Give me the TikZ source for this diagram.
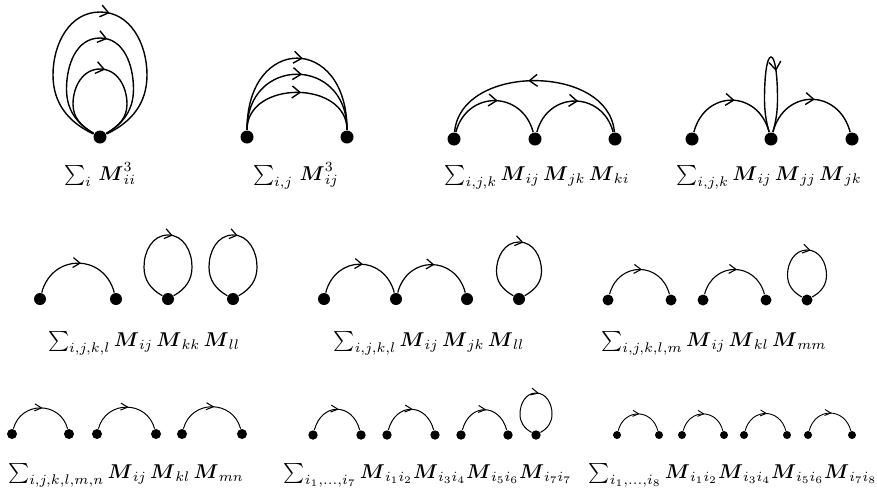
\documentclass[tikz,border=0pt]{standalone}
\usepackage{amsmath}
\usepackage{amssymb}
\usetikzlibrary{arrows.meta,decorations.markings}

\begin{document}
\begin{tikzpicture}[x=0.5pt, y=0.5pt,
    vtx/.style={circle, fill=black, inner sep=0pt, minimum size=#1},
    prop/.style={postaction={decorate}, decoration={markings,
        mark=at position #1 with {\arrow{>}}}},
    prop/.default=0.53,
    lbl/.style={anchor=base, inner sep=0pt}]
  \useasboundingbox (0,0) rectangle (877,-489);

  % ---- first row ----
  \begin{scope}[line width=0.7pt, >={Straight Barb[length=4pt,width=6pt]}]
    % one vertex, three loops
    \node[vtx=6.5pt] (v1) at (100,-137) {};
    \draw[prop] (v1) to[out=155,in=-90] ++(-47,62) to[out=90,in=180] ++(47,63)
      to[out=0,in=90] ++(47,-63) to[out=-90,in=25] (v1);
    \draw[prop] (v1) to[out=150,in=-90] ++(-33.5,48) to[out=90,in=180] ++(33.5,51)
      to[out=0,in=90] ++(33.5,-51) to[out=-90,in=30] (v1);
    \draw[prop] (v1) to[out=150,in=-90] ++(-27,33) to[out=90,in=180] ++(27,35)
      to[out=0,in=90] ++(27,-35) to[out=-90,in=30] (v1);
    \node[lbl] (s1) at (100,-180) {$\sum_{i}\, \boldsymbol{M}_{ii}^{3}$};

    % two vertices, three lines
    \node[vtx=6.5pt] (v2a) at (247,-137) {};
    \node[vtx=6.5pt] (v2b) at (347,-137) {};
    \foreach \l in {2.45,1.9,1.28}
      \draw[prop] (v2a) to[out=90,in=90,looseness=\l] (v2b);
    \node[lbl] (s2) at (296,-180) {$\sum_{i,j}\, \boldsymbol{M}_{ij}^{3}$};

    % triangle
    \node[vtx=6.5pt] (v3a) at (454,-139) {};
    \node[vtx=6.5pt] (v3b) at (535,-139) {};
    \node[vtx=6.5pt] (v3c) at (615,-139) {};
    \draw[prop] (v3a) to[out=75,in=105,looseness=1.44] (v3b);
    \draw[prop] (v3b) to[out=75,in=105,looseness=1.44] (v3c);
    \draw[prop] (v3c) to[out=95,in=85,looseness=1.1] (v3a);
    \node[lbl] (s3) at (537,-180) {$\sum_{i,j,k} \boldsymbol{M}_{ij}\,\boldsymbol{M}_{jk}\,\boldsymbol{M}_{ki}$};

    % chain with a thin loop in the middle
    \node[vtx=6.5pt] (v4a) at (692,-139) {};
    \node[vtx=6.5pt] (v4b) at (771,-139) {};
    \node[vtx=6.5pt] (v4c) at (852,-139) {};
    \draw[prop] (v4a) to[out=75,in=105,looseness=1.5] (v4b);
    \draw[prop] (v4b) to[out=75,in=105,looseness=1.5] (v4c);
    \draw[prop=0.6] (v4b) to[out=105,in=-90,out looseness=0.5,in looseness=1.3] ++(-6.5,40)
      to[out=90,in=180,out looseness=1.4,in looseness=0.25] ++(6.5,42)
      to[out=0,in=90,out looseness=0.25,in looseness=1.4] ++(6.5,-42)
      to[out=-90,in=75,out looseness=1.3,in looseness=0.5] (v4b);
    \node[lbl] (s4) at (769,-180) {$\sum_{i,j,k} \boldsymbol{M}_{ij}\,\boldsymbol{M}_{jj}\,\boldsymbol{M}_{jk}$};
  \end{scope}

  % ---- second row ----
  \begin{scope}[line width=0.6pt, >={Straight Barb[length=3.5pt,width=5pt]}]
    \node[vtx=6pt] (v5a) at (40,-299) {};
    \node[vtx=6pt] (v5b) at (116,-299) {};
    \node[vtx=6pt] (v5c) at (168,-299) {};
    \node[vtx=6pt] (v5d) at (233,-299) {};
    \draw[prop] (v5a) to[out=75,in=105,looseness=1.44] (v5b);
    \foreach \v in {v5c,v5d}
      \draw[prop] (\v) to[out=150,in=-90] ++(-24,32) to[out=90,in=180] ++(24,32)
        to[out=0,in=90] ++(24,-32) to[out=-90,in=30] (\v);
    \node[lbl] (s5) at (144,-346) {$\sum_{i,j,k,l} \boldsymbol{M}_{ij}\,\boldsymbol{M}_{kk}\,\boldsymbol{M}_{ll}$};

    \node[vtx=6pt] (v6a) at (324,-299) {};
    \node[vtx=6pt] (v6b) at (396,-299) {};
    \node[vtx=6pt] (v6c) at (467,-299) {};
    \node[vtx=6pt] (v6d) at (519,-299) {};
    \draw[prop] (v6a) to[out=75,in=105,looseness=1.47] (v6b);
    \draw[prop] (v6b) to[out=75,in=105,looseness=1.47] (v6c);
    \draw[prop] (v6d) to[out=150,in=-90] ++(-22.5,28) to[out=90,in=180] ++(22.5,29)
      to[out=0,in=90] ++(22.5,-29) to[out=-90,in=30] (v6d);
    \node[lbl] (s6) at (429,-346) {$\sum_{i,j,k,l} \boldsymbol{M}_{ij}\,\boldsymbol{M}_{jk}\,\boldsymbol{M}_{ll}$};
  \end{scope}

  \begin{scope}[line width=0.55pt, >={Straight Barb[length=3.5pt,width=4.5pt]}]
    \node[vtx=5.5pt] (v7a) at (608,-300) {};
    \node[vtx=5.5pt] (v7b) at (671,-300) {};
    \node[vtx=5.5pt] (v7c) at (703,-300) {};
    \node[vtx=5.5pt] (v7d) at (766,-300) {};
    \node[vtx=5.5pt] (v7e) at (807,-300) {};
    \draw[prop] (v7a) to[out=75,in=105,looseness=1.46] (v7b);
    \draw[prop] (v7c) to[out=75,in=105,looseness=1.46] (v7d);
    \draw[prop] (v7e) to[out=150,in=-90] ++(-19.5,25) to[out=90,in=180] ++(19.5,25)
      to[out=0,in=90] ++(19.5,-25) to[out=-90,in=30] (v7e);
    \node[lbl] (s7) at (714,-346) {$\sum_{i,j,k,l,m} \boldsymbol{M}_{ij}\,\boldsymbol{M}_{kl}\,\boldsymbol{M}_{mm}$};
  \end{scope}

  % ---- third row ----
  \begin{scope}[line width=0.5pt, >={Straight Barb[length=3.5pt,width=3.5pt]}]
    \foreach \a/\b/\n in {12/69/1, 97/156/2, 182/242/3} {
      \node[vtx=5pt] (v8l\n) at (\a,-434) {};
      \node[vtx=5pt] (v8r\n) at (\b,-434) {};
      \draw[prop] (v8l\n) to[out=75,in=105,looseness=1.36] (v8r\n);
    }
    \node[lbl] (s8) at (126,-478) {$\sum_{i,j,k,l,m,n} \boldsymbol{M}_{ij}\,\boldsymbol{M}_{kl}\,\boldsymbol{M}_{mn}$};

    \foreach \a/\b/\n in {313/361/1, 387/435/2, 461/508/3} {
      \node[vtx=4.7pt] (v9l\n) at (\a,-435) {};
      \node[vtx=4.7pt] (v9r\n) at (\b,-435) {};
      \draw[prop] (v9l\n) to[out=75,in=105,looseness=1.62] (v9r\n);
    }
    \node[vtx=4.7pt] (v9s) at (536,-435) {};
    \draw[prop] (v9s) to[out=150,in=-90] ++(-16,21) to[out=90,in=180] ++(16,21)
      to[out=0,in=90] ++(16,-21) to[out=-90,in=30] (v9s);
    \node[lbl] (s9) at (428,-478) {$\sum_{i_1,\dots,i_7} \boldsymbol{M}_{i_1i_2}\boldsymbol{M}_{i_3i_4}\boldsymbol{M}_{i_5i_6}\boldsymbol{M}_{i_7i_7}$};
  \end{scope}

  \begin{scope}[line width=0.45pt, >={Straight Barb[length=3pt,width=3pt]}]
    \foreach \a/\b/\n in {617/659/1, 682/724/2, 744/787/3, 808/852/4} {
      \node[vtx=4pt] (v10l\n) at (\a,-435) {};
      \node[vtx=4pt] (v10r\n) at (\b,-435) {};
      \draw[prop] (v10l\n) to[out=75,in=105,looseness=1.5] (v10r\n);
    }
    \node[lbl] (s10) at (733,-478) {$\sum_{i_1,\dots,i_8} \boldsymbol{M}_{i_1i_2}\boldsymbol{M}_{i_3i_4}\boldsymbol{M}_{i_5i_6}\boldsymbol{M}_{i_7i_8}$};
  \end{scope}
\end{tikzpicture}
\end{document}
